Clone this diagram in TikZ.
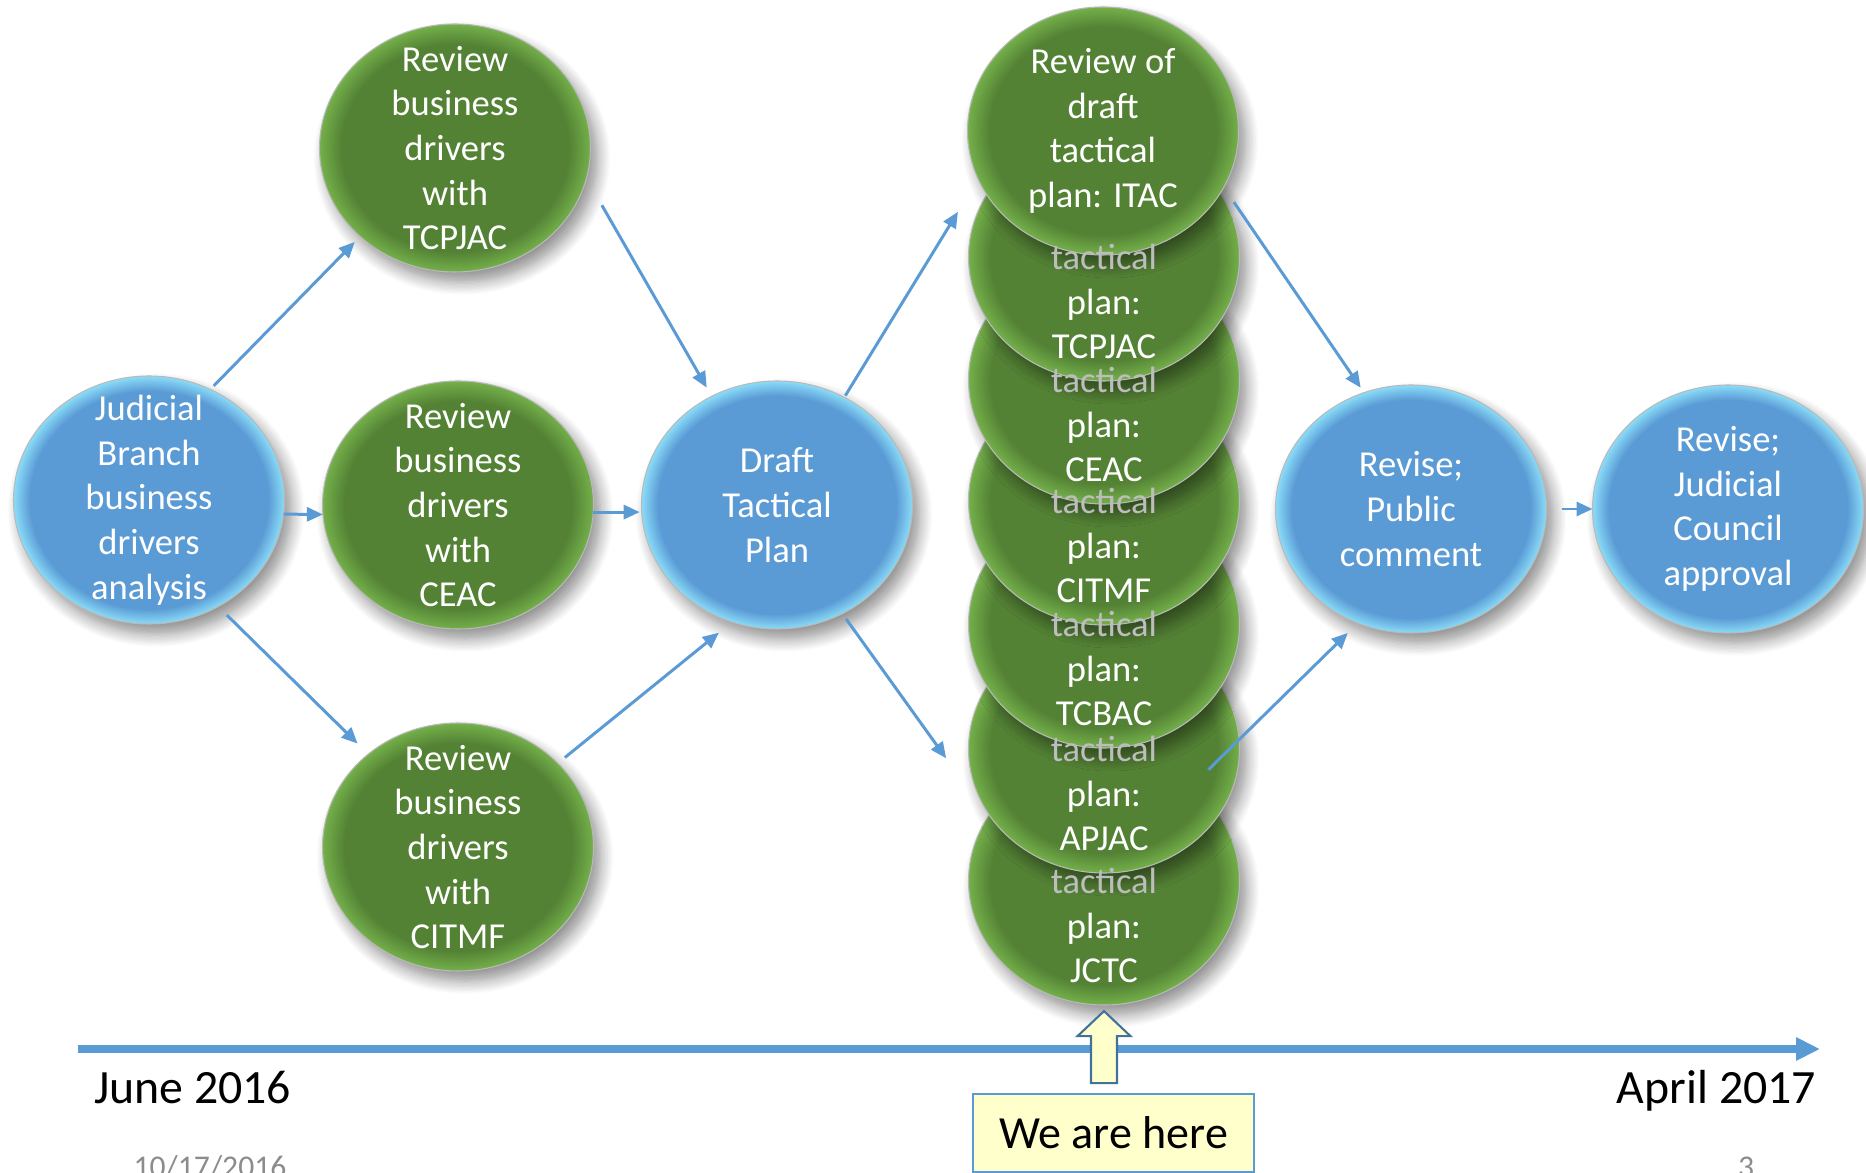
\documentclass[tikz,border=0pt]{standalone}
\usepackage{fontspec}
\setmainfont{Carlito}
\usetikzlibrary{arrows.meta,positioning,shapes.geometric,shadows.blur}
\definecolor{ballblue}{HTML}{5B9BD5}
\definecolor{blueedge}{HTML}{8ADCF8}
\definecolor{ballgreen}{HTML}{548235}
\definecolor{greenedge}{HTML}{74B04A}
\definecolor{flow}{HTML}{5B9BD5}
\definecolor{herefill}{HTML}{FFFFCC}
\definecolor{hereline}{HTML}{41719C}
\definecolor{tacgrey}{HTML}{BDBDBD}
\definecolor{footgrey}{HTML}{8C8C8C}
% glassy rims for the balls
\pgfdeclareradialshading{blueglass}{\pgfpoint{0bp}{0bp}}{color(0bp)=(ballblue); color(22bp)=(ballblue); color(25bp)=(blueedge); color(50bp)=(blueedge)}
\pgfdeclareradialshading{greenglass}{\pgfpoint{0bp}{0bp}}{color(0bp)=(ballgreen); color(21bp)=(ballgreen); color(25bp)=(greenedge); color(50bp)=(greenedge)}
\tikzset{
  ball/.style={ellipse,minimum width=2.71cm,minimum height=2.48cm,inner sep=0pt,outer sep=0pt,
               draw=gray!55,line width=0.3pt,
               blur shadow={shadow xshift=0.07cm,shadow yshift=-0.1cm,shadow blur radius=0.13cm,
                            shadow blur steps=10,shadow opacity=45}},
  blueb/.style={ball,shading=blueglass},
  greenb/.style={ball,shading=greenglass},
  txt/.style={text=white,align=center,inner sep=0pt,font=\fontsize{10.4}{12.7}\selectfont},
  fl/.style={-{Triangle[length=1.6mm,width=1.4mm]},line width=0.85pt,draw=flow},
  timeline/.style={-{Triangle[length=2.4mm,width=2.2mm]},line width=2.3pt,draw=flow},
  date/.style={anchor=base,font=\fontsize{13.6}{16}\selectfont},
  foot/.style={anchor=base,text=footgrey,font=\fontsize{9}{11}\selectfont},
  herebox/.style={rectangle,draw=flow,line width=0.5pt,fill=herefill,minimum width=2.81cm,
                  minimum height=0.78cm,font=\fontsize{13.1}{15}\selectfont},
  herearrow/.style={draw=hereline,line width=0.6pt,fill=herefill,line join=miter},
}
\begin{document}
\begin{tikzpicture}
\useasboundingbox (0,0) rectangle (18.66,-11.73);
\clip (0,0) rectangle (18.66,-11.73);

% first column and the three reviews
\node[blueb,label={[txt]center:{Judicial\\Branch\\business\\drivers\\analysis}}] (jb) at (1.49,-5.00) {};
\node[greenb,right=0.38cm of jb,yshift=-0.05cm,
      label={[txt]center:{Review\\business\\drivers\\with\\CEAC}}] (rv2) {};
\node[greenb,above=1.09cm of rv2,xshift=-0.03cm,
      label={[txt]center:{Review\\business\\drivers\\with\\TCPJAC}}] (rv1) {};
\node[greenb,below=0.94cm of rv2,
      label={[txt]center:{Review\\business\\drivers\\with\\CITMF}}] (rv3) {};
\node[blueb,right=0.48cm of rv2,label={[txt]center:{Draft\\Tactical\\Plan}}] (draft) {};

% stack of committee reviews, lowest first
\foreach \nm/\yy in {jctc/-8.81,apjac/-7.49,tcbac/-6.24,citmf/-5.01,ceac/-3.80,tcpjac/-2.57}
  \node[greenb] (\nm) at (11.04,\yy) {};
\node[greenb,label={[txt]center:{Review of\\draft\\tactical\\plan: ITAC}}] (itac) at (11.03,-1.31) {};
\foreach \nm/\cm in {tcpjac/TCPJAC,ceac/CEAC,citmf/CITMF,tcbac/TCBAC,apjac/APJAC,jctc/JCTC}
  \node[txt] (\nm-txt) at ([yshift=-4.46mm]\nm.center) {\textcolor{tacgrey}{tactical}\\plan:\\\cm};

\node[blueb,right=3.63cm of draft,yshift=-0.04cm,
      label={[txt]center:{Revise;\\Public\\comment}}] (rev) {};
\node[blueb,right=0.46cm of rev,
      label={[txt]center:{Revise;\\Judicial\\Council\\approval}}] (jc) {};

% flow arrows
\draw[fl,shorten <=0.05cm,shorten >=0.075cm] (jb.61) -- (rv1.223);
\draw[fl] (jb.-6) -- (rv2.184);
\draw[fl,shorten <=0.12cm,shorten >=0.15cm] (jb.-57) -- (rv3.134);
\draw[fl,shorten <=0.31cm,shorten >=0.1cm] (rv1.-13) -- (draft.121);
\draw[fl,shorten >=0.02cm] (rv2.-3) -- (draft.183);
\draw[fl,shorten <=0.09cm,shorten >=0.17cm] (rv3.40) -- (draft.249);
\draw[fl,shorten <=0.02cm,shorten >=0.385cm] (draft.58) -- (itac.201);
\draw[fl,shorten <=0.065cm,shorten >=0.72cm] (draft.-59) -- (jctc.151);
\draw[fl,shorten <=0.18cm,shorten >=0.06cm] (itac.-25) -- (rev.112);
\draw[fl,shorten <=-0.43cm,shorten >=0.14cm] (apjac.4) -- (rev.245);
\draw[fl,shorten <=0.15cm] (rev.0) -- (jc.180);

% time axis
\coordinate (t0) at (0.78,-10.49);
\coordinate (t1) at (18.20,-10.49);
\draw[timeline] (t0) -- (t1);
\node[date] (start) at (1.925,-11.03) {June 2016};
\node[date] (end) at (17.165,-11.03) {April 2017};

% marker
\node[herebox] (here) at (11.135,-11.33) {We are here};
\draw[herearrow] ([xshift=-0.095cm,yshift=0.1cm]here.north) -- ++(0.13,0) -- ++(0,0.47) -- ++(0.135,0)
  -- ++(-0.265,0.25) -- ++(-0.265,-0.25) -- ++(0.135,0) -- ++(0,-0.47) -- cycle;

\node[foot] (day) at (2.10,-11.77) {10/17/2016};
\node[foot] (page) at (17.46,-11.77) {3};
\end{tikzpicture}
\end{document}
